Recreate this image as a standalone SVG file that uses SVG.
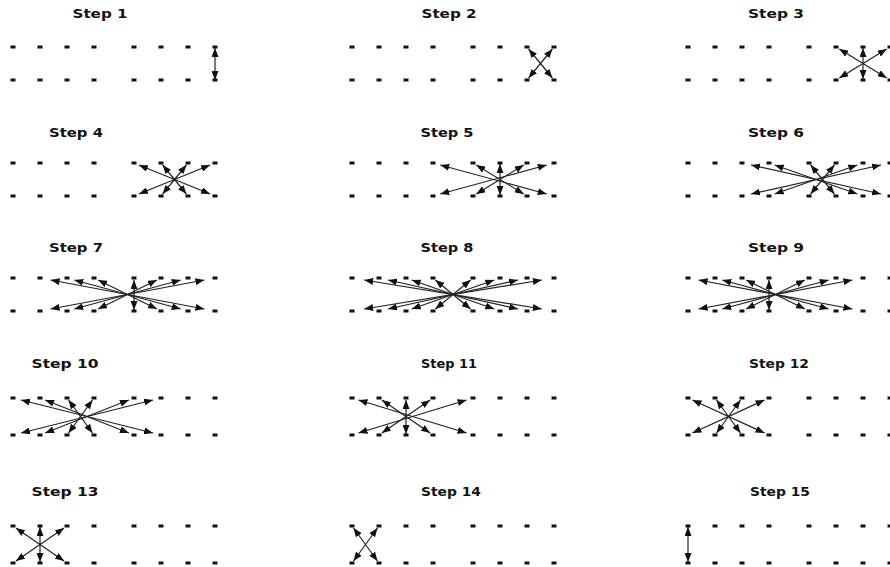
<svg xmlns="http://www.w3.org/2000/svg" width="890" height="567" viewBox="0 0 890 567">
<style>
.t{font-family:"DejaVu Sans","Liberation Sans",sans-serif;font-weight:bold;font-size:12px;fill:#111;text-anchor:middle}
.c line{stroke:#222;stroke-width:1.2;marker-start:url(#ah);marker-end:url(#ah)}
.d{fill:#111}
</style>
<defs>
<marker id="ah" viewBox="0 0 9 7" refX="9" refY="3.5" markerWidth="9" markerHeight="7" markerUnits="userSpaceOnUse" orient="auto-start-reverse"><path d="M0,0 L9,3.5 L0,7 z" fill="#111"/></marker>
<g id="row" class="d">
<rect x="-2.5" y="-1.5" width="5" height="3"/><rect x="24.5" y="-1.5" width="5" height="3"/><rect x="51.5" y="-1.5" width="5" height="3"/><rect x="78.5" y="-1.5" width="5" height="3"/><rect x="118.5" y="-1.5" width="5" height="3"/><rect x="145.5" y="-1.5" width="5" height="3"/><rect x="172.5" y="-1.5" width="5" height="3"/><rect x="199.5" y="-1.5" width="5" height="3"/>
</g>
</defs>
<rect width="890" height="567" fill="#fff"/>
<g id="titles">
<text class="t" x="100" y="18" textLength="55" lengthAdjust="spacingAndGlyphs">Step 1</text>
<text class="t" x="449" y="18" textLength="55" lengthAdjust="spacingAndGlyphs">Step 2</text>
<text class="t" x="776" y="18" textLength="56" lengthAdjust="spacingAndGlyphs">Step 3</text>
<text class="t" x="76" y="137" textLength="54" lengthAdjust="spacingAndGlyphs">Step 4</text>
<text class="t" x="447" y="137" textLength="53" lengthAdjust="spacingAndGlyphs">Step 5</text>
<text class="t" x="776" y="137" textLength="56" lengthAdjust="spacingAndGlyphs">Step 6</text>
<text class="t" x="76" y="252" textLength="54" lengthAdjust="spacingAndGlyphs">Step 7</text>
<text class="t" x="447" y="252" textLength="53" lengthAdjust="spacingAndGlyphs">Step 8</text>
<text class="t" x="776" y="252" textLength="56" lengthAdjust="spacingAndGlyphs">Step 9</text>
<text class="t" x="65" y="368" textLength="67" lengthAdjust="spacingAndGlyphs">Step 10</text>
<text class="t" x="449" y="368" textLength="56" lengthAdjust="spacingAndGlyphs">Step 11</text>
<text class="t" x="779" y="368" textLength="60" lengthAdjust="spacingAndGlyphs">Step 12</text>
<text class="t" x="65" y="496" textLength="67" lengthAdjust="spacingAndGlyphs">Step 13</text>
<text class="t" x="451" y="496" textLength="60" lengthAdjust="spacingAndGlyphs">Step 14</text>
<text class="t" x="780" y="496" textLength="60" lengthAdjust="spacingAndGlyphs">Step 15</text>
</g>
<g id="nodes">
<g id="step1-dots"><use href="#row" x="13" y="47"/><use href="#row" x="13" y="80"/></g>
<g id="step2-dots"><use href="#row" x="352" y="47"/><use href="#row" x="352" y="80"/></g>
<g id="step3-dots"><use href="#row" x="688" y="47"/><use href="#row" x="688" y="80"/></g>
<g id="step4-dots"><use href="#row" x="13" y="163"/><use href="#row" x="13" y="196"/></g>
<g id="step5-dots"><use href="#row" x="352" y="163"/><use href="#row" x="352" y="196"/></g>
<g id="step6-dots"><use href="#row" x="688" y="163"/><use href="#row" x="688" y="196"/></g>
<g id="step7-dots"><use href="#row" x="13" y="278"/><use href="#row" x="13" y="311"/></g>
<g id="step8-dots"><use href="#row" x="352" y="278"/><use href="#row" x="352" y="311"/></g>
<g id="step9-dots"><use href="#row" x="688" y="278"/><use href="#row" x="688" y="311"/></g>
<g id="step10-dots"><use href="#row" x="13" y="398"/><use href="#row" x="13" y="435"/></g>
<g id="step11-dots"><use href="#row" x="352" y="398"/><use href="#row" x="352" y="435"/></g>
<g id="step12-dots"><use href="#row" x="688" y="398"/><use href="#row" x="688" y="435"/></g>
<g id="step13-dots"><use href="#row" x="13" y="526"/><use href="#row" x="13" y="563"/></g>
<g id="step14-dots"><use href="#row" x="352" y="526"/><use href="#row" x="352" y="563"/></g>
<g id="step15-dots"><use href="#row" x="688" y="526"/><use href="#row" x="688" y="563"/></g>
</g>
<g id="connectors" class="c">
<g id="step1-arrows" transform="translate(13,47)">
<line x1="202" y1="1" x2="202" y2="33"/>
</g>
<g id="step2-arrows" transform="translate(352,47)">
<line x1="176.6" y1="2" x2="200.4" y2="31"/>
<line x1="200.4" y1="2" x2="176.6" y2="31"/>
</g>
<g id="step3-arrows" transform="translate(688,47)">
<line x1="151.3" y1="2" x2="198.7" y2="31"/>
<line x1="175" y1="1" x2="175" y2="32"/>
<line x1="198.7" y1="2" x2="151.3" y2="31"/>
</g>
<g id="step4-arrows" transform="translate(13,163)">
<line x1="125.9" y1="2" x2="197.1" y2="31"/>
<line x1="149.6" y1="2" x2="173.4" y2="31"/>
<line x1="173.4" y1="2" x2="149.6" y2="31"/>
<line x1="197.1" y1="2" x2="125.9" y2="31"/>
</g>
<g id="step5-arrows" transform="translate(352,163)">
<line x1="88.3" y1="2" x2="194.7" y2="31"/>
<line x1="124.3" y1="2" x2="171.7" y2="31"/>
<line x1="148" y1="1" x2="148" y2="32"/>
<line x1="171.7" y1="2" x2="124.3" y2="31"/>
<line x1="194.7" y1="2" x2="88.3" y2="31"/>
</g>
<g id="step6-arrows" transform="translate(688,163)">
<line x1="63" y1="2" x2="193" y2="31"/>
<line x1="86.7" y1="2" x2="169.3" y2="31"/>
<line x1="122.6" y1="2" x2="146.4" y2="31"/>
<line x1="146.4" y1="2" x2="122.6" y2="31"/>
<line x1="169.3" y1="2" x2="86.7" y2="31"/>
<line x1="193" y1="2" x2="63" y2="31"/>
</g>
<g id="step7-arrows" transform="translate(13,278)">
<line x1="37.6" y1="2" x2="191.4" y2="31"/>
<line x1="61.3" y1="2" x2="167.7" y2="31"/>
<line x1="85.1" y1="2" x2="143.9" y2="31"/>
<line x1="121" y1="2" x2="121" y2="32"/>
<line x1="143.9" y1="2" x2="85.1" y2="31"/>
<line x1="167.7" y1="2" x2="61.3" y2="31"/>
<line x1="191.4" y1="2" x2="37.6" y2="31"/>
</g>
<g id="step8-arrows" transform="translate(352,278)">
<line x1="12.2" y1="2" x2="189.8" y2="31"/>
<line x1="36" y1="2" x2="166" y2="31"/>
<line x1="59.7" y1="2" x2="142.3" y2="31"/>
<line x1="83.4" y1="2" x2="118.6" y2="31"/>
<line x1="118.6" y1="2" x2="83.4" y2="31"/>
<line x1="142.3" y1="2" x2="59.7" y2="31"/>
<line x1="166" y1="2" x2="36" y2="31"/>
<line x1="189.8" y1="2" x2="12.2" y2="31"/>
</g>
<g id="step9-arrows" transform="translate(688,278)">
<line x1="10.6" y1="2" x2="164.4" y2="31"/>
<line x1="34.3" y1="2" x2="140.7" y2="31"/>
<line x1="58.1" y1="2" x2="116.9" y2="31"/>
<line x1="81" y1="2" x2="81" y2="32"/>
<line x1="116.9" y1="2" x2="58.1" y2="31"/>
<line x1="140.7" y1="2" x2="34.3" y2="31"/>
<line x1="164.4" y1="2" x2="10.6" y2="31"/>
</g>
<g id="step10-arrows" transform="translate(13,398)">
<line x1="8" y1="2" x2="140" y2="35"/>
<line x1="32.1" y1="2" x2="115.9" y2="35"/>
<line x1="55.5" y1="2" x2="79.5" y2="35"/>
<line x1="79.5" y1="2" x2="55.5" y2="35"/>
<line x1="115.9" y1="2" x2="32.1" y2="35"/>
<line x1="140" y1="2" x2="8" y2="35"/>
</g>
<g id="step11-arrows" transform="translate(352,398)">
<line x1="6.5" y1="2" x2="114.5" y2="35"/>
<line x1="29.9" y1="2" x2="78.1" y2="35"/>
<line x1="54" y1="2" x2="54" y2="36"/>
<line x1="78.1" y1="2" x2="29.9" y2="35"/>
<line x1="114.5" y1="2" x2="6.5" y2="35"/>
</g>
<g id="step12-arrows" transform="translate(688,398)">
<line x1="4.4" y1="2" x2="76.6" y2="35"/>
<line x1="28.5" y1="2" x2="52.5" y2="35"/>
<line x1="52.5" y1="2" x2="28.5" y2="35"/>
<line x1="76.6" y1="2" x2="4.4" y2="35"/>
</g>
<g id="step13-arrows" transform="translate(13,526)">
<line x1="2.9" y1="2" x2="51.1" y2="35"/>
<line x1="27" y1="1" x2="27" y2="36"/>
<line x1="51.1" y1="2" x2="2.9" y2="35"/>
</g>
<g id="step14-arrows" transform="translate(352,526)">
<line x1="1.5" y1="2" x2="25.5" y2="35"/>
<line x1="25.5" y1="2" x2="1.5" y2="35"/>
</g>
<g id="step15-arrows" transform="translate(688,526)">
<line x1="0" y1="1" x2="0" y2="36"/>
</g>
</g>
</svg>
